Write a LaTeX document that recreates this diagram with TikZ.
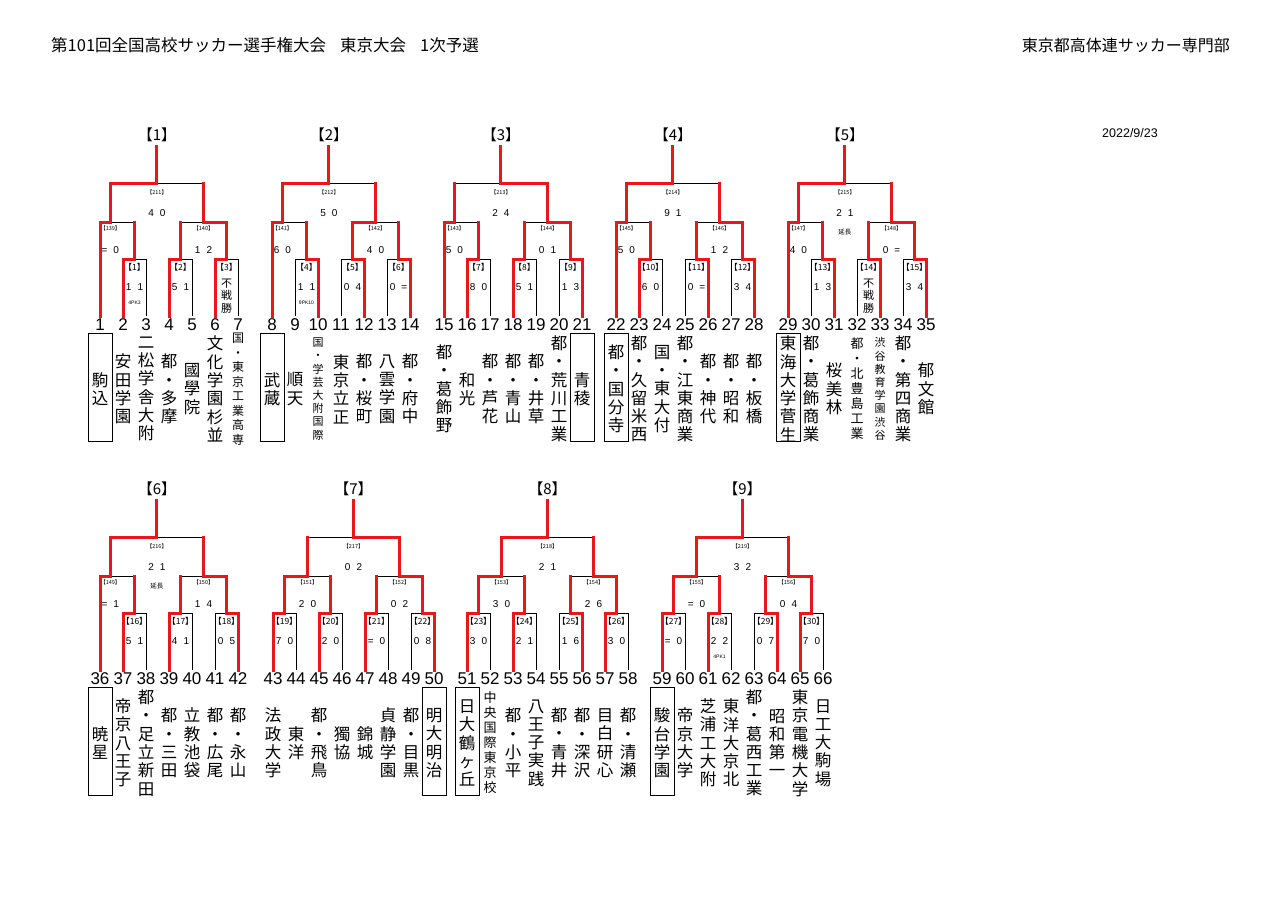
\documentclass[tikz,border=0pt]{standalone}
\usepackage{fontspec}
\setmainfont{Noto Sans CJK JP}
\newfontfamily\lat{Liberation Sans}
\definecolor{wred}{RGB}{232,24,24}
\def\dd{23}
\def\vtEnd{VTEND}
\def\vtA#1{\ifx#1\vtEnd\else\hbox to 1.2em{\hss#1\hss}\expandafter\vtA\fi}
\newcommand\vt[1]{\vbox{\vtA#1\vtEnd}}
\tikzset{
 blk/.style={draw=black,line width=0.9pt},
 win/.style={draw=wred,line width=3pt,line cap=rect},
 numf/.style={font={\lat\fontsize{17}{18}\selectfont},inner sep=0pt},
 nm/.style={font=\fontsize{16.5}{18.3}\selectfont,inner sep=0pt},
 nmS/.style={font=\fontsize{11}{13.2}\selectfont,inner sep=0pt},
 nmM/.style={font=\fontsize{12}{14.5}\selectfont,inner sep=0pt},
 nmN/.style={font=\fontsize{13}{15}\selectfont,inner sep=0pt},
 nmC/.style={font=\fontsize{13}{15}\selectfont,inner sep=0pt},
 tbox/.style={draw=black,line width=1pt,minimum width=24pt,minimum height=108pt,inner sep=0pt},
 ttl/.style={font=\fontsize{15}{16}\selectfont,inner sep=0pt},
 l1lab/.style={font=\fontsize{8.5}{9}\selectfont,yshift=-8pt,inner sep=0pt},
 l1sc/.style={font={\lat\fontsize{10}{11}\selectfont},yshift=-28pt,inner sep=0pt},
 l1pk/.style={font={\lat\fontsize{5}{6}\selectfont},yshift=-44pt,inner sep=0pt},
 l2lab/.style={font=\fontsize{5.5}{6}\selectfont,yshift=-6pt,inner sep=0pt},
 l2sc/.style={font={\lat\fontsize{10}{11}\selectfont},yshift=-28pt,inner sep=0pt},
 l3lab/.style={font=\fontsize{5.5}{6}\selectfont,yshift=-9pt,inner sep=0pt},
 l3sc/.style={font={\lat\fontsize{10}{11}\selectfont},yshift=-30pt,inner sep=0pt},
 l3ext/.style={font=\fontsize{6.5}{7}\selectfont,yshift=-49pt,inner sep=0pt},
 fus/.style={font=\fontsize{11}{12.5}\selectfont,yshift=-37pt,inner sep=0pt},
}
% xl xr xp yh ybl ybr side(0 left wins,1 right wins) redloser
\newcommand\matchline[8]{%
  \draw[blk] (#1,#5) -- (#1,#4) -- (#2,#4) -- (#2,#6);
  \ifnum#7=0\relax
    \draw[win] (#1,#5) -- (#1,#4) -- (#3,#4);
    \ifnum#8=1\relax \draw[win] (#2,#4) -- (#2,#6);\fi
  \else
    \draw[win] (#2,#6) -- (#2,#4) -- (#3,#4);
    \ifnum#8=1\relax \draw[win] (#1,#4) -- (#1,#5);\fi
  \fi}
\newcommand\setY[1]{%
  \pgfmathsetmacro\bYt{146+#1}\pgfmathsetmacro\bYd{183+#1}%
  \pgfmathsetmacro\bYc{222+#1}\pgfmathsetmacro\bYa{259+#1}%
  \pgfmathsetmacro\bYb{316+#1}\pgfmathsetmacro\bYh{135+#1}}
\newcommand\SevenBlock[8]{%
  \setY{#2}%
  \pgfmathsetmacro\bXa{#1}\pgfmathsetmacro\bXb{#1+\dd}\pgfmathsetmacro\bXc{#1+2*\dd}%
  \pgfmathsetmacro\bXd{#1+3*\dd}\pgfmathsetmacro\bXe{#1+4*\dd}\pgfmathsetmacro\bXf{#1+5*\dd}%
  \pgfmathsetmacro\bXg{#1+6*\dd}%
  \pgfmathsetmacro\bMa{#1+1.5*\dd}\pgfmathsetmacro\bMb{#1+3.5*\dd}\pgfmathsetmacro\bMc{#1+5.5*\dd}%
  \pgfmathsetmacro\bPa{#1+0.45*\dd}\pgfmathsetmacro\bPb{#1+4.5*\dd}%
  \pgfmathsetmacro\bT{(\bPa+\bPb)/2}%
  \matchline{\bXb}{\bXc}{\bMa}{\bYa}{\bYb}{\bYb}{#3}{0}
  \matchline{\bXd}{\bXe}{\bMb}{\bYa}{\bYb}{\bYb}{#4}{0}
  \matchline{\bXf}{\bXg}{\bMc}{\bYa}{\bYb}{\bYb}{#5}{0}
  \matchline{\bXa}{\bMa}{\bPa}{\bYc}{\bYb}{\bYa}{#6}{1}
  \matchline{\bMb}{\bMc}{\bPb}{\bYc}{\bYa}{\bYa}{#7}{1}
  \matchline{\bPa}{\bPb}{\bT}{\bYd}{\bYc}{\bYc}{#8}{1}
  \draw[win] (\bT,\bYt) -- (\bT,\bYd);
  \coordinate (ga) at (\bMa,\bYa); \coordinate (gb) at (\bMb,\bYa); \coordinate (gc) at (\bMc,\bYa);
  \coordinate (gL) at (\bPa,\bYc); \coordinate (gR) at (\bPb,\bYc);
  \coordinate (gF) at (\bT,\bYd); \coordinate (gT) at (\bT,\bYh);}
\newcommand\EightBlock[9]{%
  \setY{#2}%
  \pgfmathsetmacro\bXa{#1}\pgfmathsetmacro\bXb{#1+\dd}\pgfmathsetmacro\bXc{#1+2*\dd}%
  \pgfmathsetmacro\bXd{#1+3*\dd}\pgfmathsetmacro\bXe{#1+4*\dd}\pgfmathsetmacro\bXf{#1+5*\dd}%
  \pgfmathsetmacro\bXg{#1+6*\dd}\pgfmathsetmacro\bXh{#1+7*\dd}%
  \pgfmathsetmacro\bMa{#1+0.5*\dd}\pgfmathsetmacro\bMb{#1+2.5*\dd}%
  \pgfmathsetmacro\bMc{#1+4.5*\dd}\pgfmathsetmacro\bMd{#1+6.5*\dd}%
  \pgfmathsetmacro\bPa{#1+1.5*\dd}\pgfmathsetmacro\bPb{#1+5.5*\dd}%
  \pgfmathsetmacro\bT{#1+3.5*\dd}%
  \matchline{\bXa}{\bXb}{\bMa}{\bYa}{\bYb}{\bYb}{#3}{0}
  \matchline{\bXc}{\bXd}{\bMb}{\bYa}{\bYb}{\bYb}{#4}{0}
  \matchline{\bXe}{\bXf}{\bMc}{\bYa}{\bYb}{\bYb}{#5}{0}
  \matchline{\bXg}{\bXh}{\bMd}{\bYa}{\bYb}{\bYb}{#6}{0}
  \matchline{\bMa}{\bMb}{\bPa}{\bYc}{\bYa}{\bYa}{#7}{1}
  \matchline{\bMc}{\bMd}{\bPb}{\bYc}{\bYa}{\bYa}{#8}{1}
  \matchline{\bPa}{\bPb}{\bT}{\bYd}{\bYc}{\bYc}{#9}{1}
  \draw[win] (\bT,\bYt) -- (\bT,\bYd);
  \coordinate (ga) at (\bMa,\bYa); \coordinate (gb) at (\bMb,\bYa);
  \coordinate (gc) at (\bMc,\bYa); \coordinate (gd) at (\bMd,\bYa);
  \coordinate (gL) at (\bPa,\bYc); \coordinate (gR) at (\bPb,\bYc);
  \coordinate (gF) at (\bT,\bYd); \coordinate (gT) at (\bT,\bYh);}
\newcommand\gA[4]{\node[l1lab] (G#2) at (#1) {【#2】}; \node[l1sc] (S#2) at (#1) {#3\hspace{6pt}#4};}
\newcommand\gB[4]{\node[l2lab] (G#2) at (#1) {【#2】}; \node[l2sc] (S#2) at (#1) {#3\hspace{6pt}#4};}
\newcommand\gC[4]{\node[l3lab] (G#2) at (#1) {【#2】}; \node[l3sc] (S#2) at (#1) {#3\hspace{6pt}#4};}
\newcommand\team[5]{\node[numf] (n#3) at (#1,{325+#2}) {#3}; \node[#5] (t#3) at (#1,{389+#2}) {\vt{#4}};}
\newcommand\bteam[4]{\node[tbox] (b#3) at (#1,{387+#2}) {}; \team{#1}{#2}{#3}{#4}{nm}}
\begin{document}
\begin{tikzpicture}[x=1pt,y=-1pt]
\fill[white] (0,0) rectangle (1280,905);
\useasboundingbox (0,0) rectangle (1280,905);
\node[anchor=west,inner sep=0pt,font=\fontsize{16.5}{18}\selectfont] (hd) at (51,45) {第101回全国高校サッカー選手権大会\hspace{14pt}東京大会\hspace{14pt}1次予選};
\node[anchor=east,inner sep=0pt,font=\fontsize{16}{18}\selectfont] (hr) at (1230,45) {東京都高体連サッカー専門部};
\node[inner sep=0pt,font={\lat\fontsize{12.5}{14}\selectfont}] (dt) at (1130,133) {2022/9/23};
% ---------- block 1
\SevenBlock{100}{0}{0}{0}{0}{0}{1}{0}
\node[ttl] (H1) at (gT) {【1】};
\gC{gF}{211}{4}{0}
\gB{gL}{139}{=}{0}
\gB{gR}{140}{1}{2}
\gA{ga}{1}{1}{1} \node[l1pk] (P1) at (ga) {4PK3};
\gA{gb}{2}{5}{1}
\node[l1lab] (G3) at (gc) {【3】}; \node[fus] (F3) at (gc) {\vt{不戦勝}};
% ---------- block 2
\SevenBlock{272}{0}{1}{1}{1}{0}{0}{0}
\node[ttl] (H2) at (gT) {【2】};
\gC{gF}{212}{5}{0}
\gB{gL}{141}{6}{0}
\gB{gR}{142}{4}{0}
\gA{ga}{4}{1}{1} \node[l1pk] (P4) at (ga) {9PK10};
\gA{gb}{5}{0}{4}
\gA{gc}{6}{0}{=}
% ---------- block 3
\SevenBlock{444}{0}{0}{0}{1}{0}{1}{1}
\node[ttl] (H3) at (gT) {【3】};
\gC{gF}{213}{2}{4}
\gB{gL}{143}{5}{0}
\gB{gR}{144}{0}{1}
\gA{ga}{7}{8}{0}
\gA{gb}{8}{5}{1}
\gA{gc}{9}{1}{3}
% ---------- block 4
\SevenBlock{616}{0}{0}{1}{1}{0}{1}{0}
\node[ttl] (H4) at (gT) {【4】};
\gC{gF}{214}{9}{1}
\gB{gL}{145}{5}{0}
\gB{gR}{146}{1}{2}
\gA{ga}{10}{6}{0}
\gA{gb}{11}{0}{=}
\gA{gc}{12}{3}{4}
% ---------- block 5
\SevenBlock{788}{0}{1}{1}{1}{0}{1}{0}
\node[ttl] (H5) at (gT) {【5】};
\gC{gF}{215}{2}{1} \node[l3ext] (E215) at (gF) {延長};
\gB{gL}{147}{4}{0}
\gB{gR}{148}{0}{=}
\gA{ga}{13}{1}{3}
\node[l1lab] (G14) at (gb) {【14】}; \node[fus] (F14) at (gb) {\vt{不戦勝}};
\gA{gc}{15}{3}{4}
% ---------- block 6
\SevenBlock{100}{354}{0}{0}{1}{0}{1}{0}
\node[ttl] (H6) at (gT) {【6】};
\gC{gF}{216}{2}{1} \node[l3ext] (E216) at (gF) {延長};
\gB{gL}{149}{=}{1}
\gB{gR}{150}{1}{4}
\gA{ga}{16}{5}{1}
\gA{gb}{17}{4}{1}
\gA{gc}{18}{0}{5}
% ---------- block 7
\EightBlock{273}{354}{0}{0}{0}{1}{0}{1}{1}
\node[ttl] (H7) at (gT) {【7】};
\gC{gF}{217}{0}{2}
\gB{gL}{151}{2}{0}
\gB{gR}{152}{0}{2}
\gA{ga}{19}{7}{0}
\gA{gb}{20}{2}{0}
\gA{gc}{21}{=}{0}
\gA{gd}{22}{0}{8}
% ---------- block 8
\EightBlock{467}{354}{0}{0}{1}{0}{0}{1}{0}
\node[ttl] (H8) at (gT) {【8】};
\gC{gF}{218}{2}{1}
\gB{gL}{153}{3}{0}
\gB{gR}{154}{2}{6}
\gA{ga}{23}{3}{0}
\gA{gb}{24}{2}{1}
\gA{gc}{25}{1}{6}
\gA{gd}{26}{3}{0}
% ---------- block 9
\EightBlock{662}{354}{0}{0}{1}{0}{0}{1}{0}
\node[ttl] (H9) at (gT) {【9】};
\gC{gF}{219}{3}{2}
\gB{gL}{155}{=}{0}
\gB{gR}{156}{0}{4}
\gA{ga}{27}{=}{0}
\gA{gb}{28}{2}{2} \node[l1pk] (P28) at (gb) {4PK1};
\gA{gc}{29}{0}{7}
\gA{gd}{30}{7}{0}
% ---------- teams, top row
\bteam{100}{0}{1}{駒込}
\team{123}{0}{2}{安田学園}{nm}
\team{146}{0}{3}{二松学舎大附}{nm}
\team{169}{0}{4}{都・多摩}{nm}
\team{192}{0}{5}{國學院}{nm}
\team{215}{0}{6}{文化学園杉並}{nm}
\team{238}{0}{7}{国・東京工業高専}{nmM}
\bteam{272}{0}{8}{武蔵}
\team{295}{0}{9}{順天}{nm}
\team{318}{0}{10}{国・学芸大附国際}{nmS}
\team{341}{0}{11}{東京立正}{nm}
\team{364}{0}{12}{都・桜町}{nm}
\team{387}{0}{13}{八雲学園}{nm}
\team{410}{0}{14}{都・府中}{nm}
\team{444}{0}{15}{都・葛飾野}{nm}
\team{467}{0}{16}{和光}{nm}
\team{490}{0}{17}{都・芦花}{nm}
\team{513}{0}{18}{都・青山}{nm}
\team{536}{0}{19}{都・井草}{nm}
\team{559}{0}{20}{都・荒川工業}{nm}
\bteam{582}{0}{21}{青稜}
\bteam{616}{0}{22}{都・国分寺}
\team{639}{0}{23}{都・久留米西}{nm}
\team{662}{0}{24}{国・東大付}{nm}
\team{685}{0}{25}{都・江東商業}{nm}
\team{708}{0}{26}{都・神代}{nm}
\team{731}{0}{27}{都・昭和}{nm}
\team{754}{0}{28}{都・板橋}{nm}
\bteam{788}{0}{29}{東海大学菅生}
\team{811}{0}{30}{都・葛飾商業}{nm}
\team{834}{0}{31}{桜美林}{nm}
\team{857}{0}{32}{都・北豊島工業}{nmN}
\team{880}{0}{33}{渋谷教育学園渋谷}{nmS}
\team{903}{0}{34}{都・第四商業}{nm}
\team{926}{0}{35}{郁文館}{nm}
% ---------- teams, bottom row
\bteam{100}{354}{36}{暁星}
\team{123}{354}{37}{帝京八王子}{nm}
\team{146}{354}{38}{都・足立新田}{nm}
\team{169}{354}{39}{都・三田}{nm}
\team{192}{354}{40}{立教池袋}{nm}
\team{215}{354}{41}{都・広尾}{nm}
\team{238}{354}{42}{都・永山}{nm}
\team{273}{354}{43}{法政大学}{nm}
\team{296}{354}{44}{東洋}{nm}
\team{319}{354}{45}{都・飛鳥}{nm}
\team{342}{354}{46}{獨協}{nm}
\team{365}{354}{47}{錦城}{nm}
\team{388}{354}{48}{貞静学園}{nm}
\team{411}{354}{49}{都・目黒}{nm}
\bteam{434}{354}{50}{明大明治}
\bteam{467}{354}{51}{日大鶴ヶ丘}
\team{490}{354}{52}{中央国際東京校}{nmC}
\team{513}{354}{53}{都・小平}{nm}
\team{536}{354}{54}{八王子実践}{nm}
\team{559}{354}{55}{都・青井}{nm}
\team{582}{354}{56}{都・深沢}{nm}
\team{605}{354}{57}{目白研心}{nm}
\team{628}{354}{58}{都・清瀬}{nm}
\bteam{662}{354}{59}{駿台学園}
\team{685}{354}{60}{帝京大学}{nm}
\team{708}{354}{61}{芝浦工大附}{nm}
\team{731}{354}{62}{東洋大京北}{nm}
\team{754}{354}{63}{都・葛西工業}{nm}
\team{777}{354}{64}{昭和第一}{nm}
\team{800}{354}{65}{東京電機大学}{nm}
\team{823}{354}{66}{日工大駒場}{nm}
\end{tikzpicture}
\end{document}
